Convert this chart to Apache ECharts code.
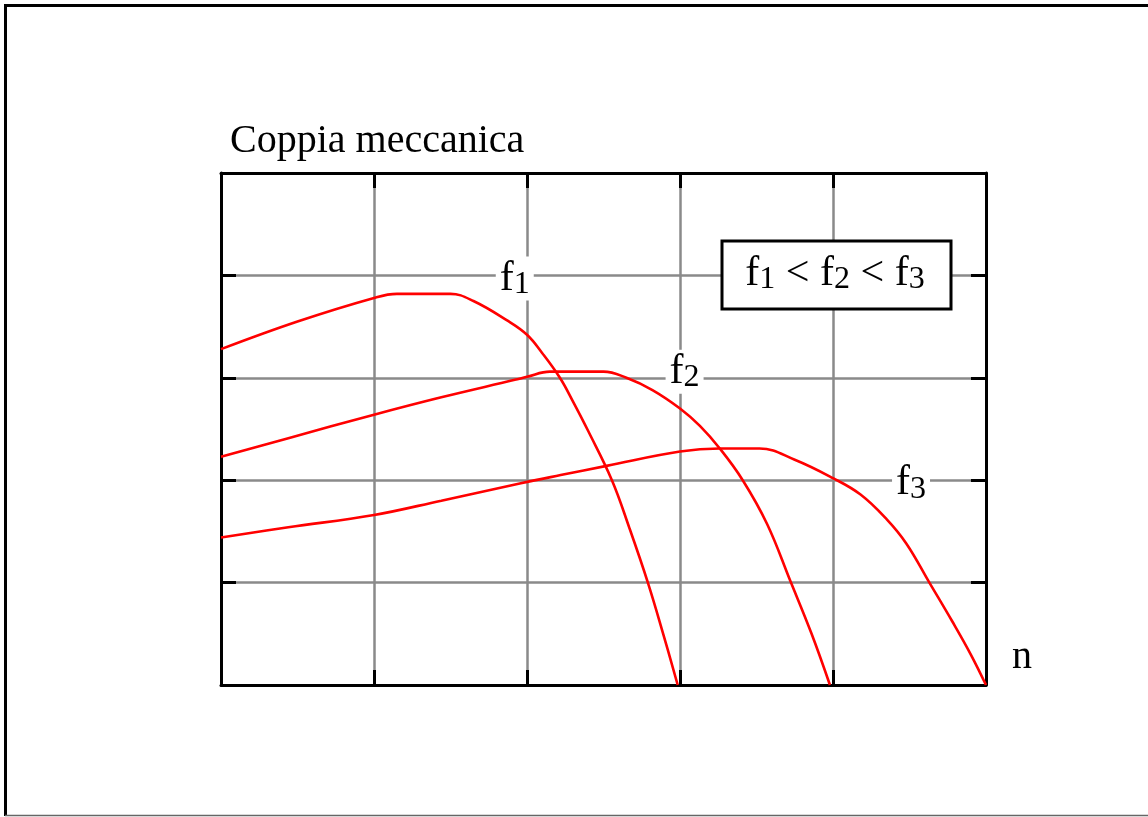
<!DOCTYPE html>
<html>
<head>
<meta charset="utf-8">
<title>Coppia meccanica</title>
<script src="https://cdn.jsdelivr.net/npm/echarts@6/dist/echarts.min.js"></script>
<style>
  html, body { margin: 0; padding: 0; background: #fff; }
  #chart { width: 1148px; height: 817px; }
</style>
</head>
<body>
<div id="chart"></div>
<script>
// Torque / speed characteristics of an induction motor at three supply frequencies
const yAxisName = 'Coppia meccanica';
const xAxisName = 'n';

// [n, torque] in grid units
const curveF1 = [[0,3.28],[0.5,3.55],[1.0,3.78],[1.15,3.82],[1.5,3.82],[1.65,3.75],[1.87,3.56],[2.0,3.42],[2.1,3.24],[2.215,3.0],[2.3,2.77],[2.4,2.48],[2.555,2.0],[2.67,1.53],[2.79,1.0],[2.89,0.5],[2.985,0]];
const curveF2 = [[0,2.23],[0.44,2.41],[1.0,2.64],[1.44,2.81],[1.92,2.98],[2.0,3.01],[2.15,3.06],[2.5,3.06],[2.65,3.0],[2.82,2.88],[3.0,2.7],[3.13,2.53],[3.26,2.31],[3.41,2.0],[3.57,1.57],[3.72,1.02],[3.86,0.5],[3.98,0]];
const curveF3 = [[0,1.44],[0.44,1.54],[1.0,1.66],[1.44,1.8],[1.96,1.97],[2.22,2.05],[2.52,2.14],[3.0,2.28],[3.26,2.31],[3.52,2.31],[3.75,2.2],[4.0,2.02],[4.18,1.86],[4.35,1.62],[4.48,1.38],[4.63,1.0],[4.78,0.62],[4.9,0.3],[5.0,0]];

const curves = [
  { name: 'f1', sub: '1', data: curveF1, labelAt: [1.92, 3.97] },
  { name: 'f2', sub: '2', data: curveF2, labelAt: [3.03, 3.06] },
  { name: 'f3', sub: '3', data: curveF3, labelAt: [4.51, 1.97] }
];
const legendText = '{m|f}{s|1}{m| < }{m|f}{s|2}{m| < }{m|f}{s|3}';

const FONT = '"Liberation Serif", "Times New Roman", serif';
const GRID_GRAY = '#8a8a8a';
const RED = '#ff0000';

const richStyles = {
  m: { fontSize: 42, fontFamily: FONT, color: '#000', lineHeight: 44 },
  s: { fontSize: 32, fontFamily: FONT, color: '#000', lineHeight: 31, verticalAlign: 'bottom' }
};

function valueAxis(position, withGrid) {
  return {
    type: 'value', min: 0, max: 5, interval: 1, position: position,
    axisLine: { show: true, onZero: false, lineStyle: { color: '#000', width: 3 } },
    axisTick: { show: true, inside: true, length: 15, lineStyle: { color: '#000', width: 3 } },
    axisLabel: { show: false },
    splitLine: { show: withGrid, lineStyle: { color: GRID_GRAY, width: 2.5 } }
  };
}

const chart = echarts.init(document.getElementById('chart'), null, { renderer: 'canvas' });

const xMain = valueAxis('bottom', true);
xMain.name = xAxisName;
xMain.nameLocation = 'end';
xMain.nameGap = 26;
xMain.nameTextStyle = { fontSize: 40, fontFamily: FONT, color: '#000', verticalAlign: 'bottom', padding: [0, 0, 8, 0] };

const yMain = valueAxis('left', true);
yMain.name = yAxisName;
yMain.nameLocation = 'end';
yMain.nameGap = 12;
yMain.nameTextStyle = { fontSize: 40, fontFamily: FONT, color: '#000', align: 'left', padding: [0, 0, 0, 9] };

chart.setOption({
  animation: false,
  backgroundColor: '#fff',
  grid: { left: 221, top: 173, right: 162, bottom: 132, containLabel: false },
  xAxis: [xMain, valueAxis('top', false)],
  yAxis: [yMain, valueAxis('right', false)],
  series: curves.map(c => ({
    name: c.name,
    type: 'line',
    xAxisIndex: 0, yAxisIndex: 0,
    data: c.data,
    showSymbol: false,
    smooth: 0.4,
    lineStyle: { color: RED, width: 2.6 },
    z: 3
  }))
});

// Frame, curve labels and the frequency legend box
const labelElements = curves.map(c => {
  const p = chart.convertToPixel({ xAxisIndex: 0, yAxisIndex: 0 }, c.labelAt);
  return {
    type: 'text', x: p[0], y: p[1], z: 50,
    style: {
      text: '{m|f}{s|' + c.sub + '}', rich: richStyles,
      align: 'center', verticalAlign: 'middle',
      backgroundColor: '#fff', padding: [0, 4, 0, 4]
    }
  };
});

chart.setOption({
  graphic: [
    { type: 'polyline', z: 60, shape: { points: [[5.5, 816], [5.5, 5.5], [1148, 5.5]] }, style: { stroke: '#000', lineWidth: 3, fill: null } },
    { type: 'line', z: 60, shape: { x1: 5, y1: 815.5, x2: 1148, y2: 815.5 }, style: { stroke: '#666', lineWidth: 1.5 } },
    ...labelElements,
    {
      type: 'group', x: 722, y: 241, z: 70,
      children: [
        { type: 'rect', shape: { x: 0, y: 0, width: 229, height: 68 }, style: { fill: '#fff', stroke: '#000', lineWidth: 3 } },
        { type: 'text', x: 113, y: 33, style: { text: legendText, rich: richStyles, align: 'center', verticalAlign: 'middle' } }
      ]
    }
  ]
});
</script>
</body>
</html>
